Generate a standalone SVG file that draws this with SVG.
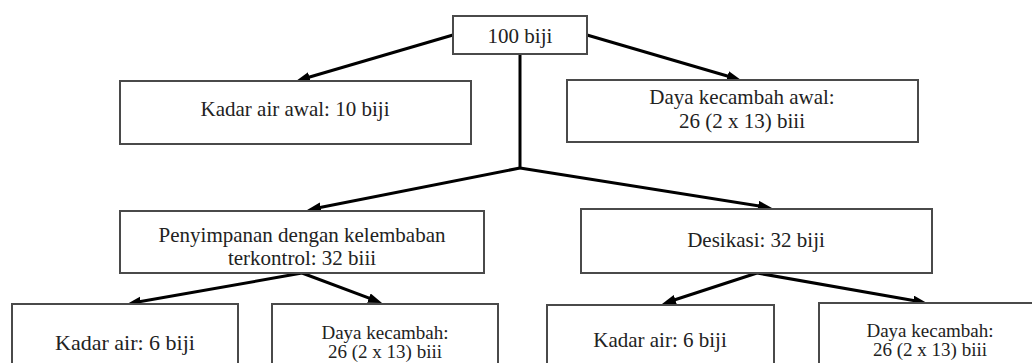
<svg xmlns="http://www.w3.org/2000/svg" width="1032" height="363" viewBox="0 0 1032 363">
<style>
.box{fill:#fff;stroke:#4a4a4a;stroke-width:2}
.t{font-family:"Liberation Serif","Times New Roman",serif;font-size:21px;fill:#222;text-anchor:middle}
.s{font-size:19px}
.c{stroke:#000;stroke-width:3;fill:none}
.a{marker-end:url(#ah)}
</style>
<defs>
<marker id="ah" markerUnits="userSpaceOnUse" markerWidth="16" markerHeight="12" refX="6" refY="5" orient="auto">
<path d="M0,0 L14,5 L0,10 z" fill="#000"/>
</marker>
</defs>
<rect width="1032" height="363" fill="#fff"/>
<g id="connectors">
<line class="c a" x1="453" y1="35" x2="303.7" y2="78.8"/>
<line class="c a" x1="587" y1="35" x2="733.3" y2="77.8"/>
<polyline class="c" points="520,54 520,168"/>
<line class="c a" x1="520" y1="168" x2="314.9" y2="208.5"/>
<line class="c a" x1="520" y1="168" x2="764.1" y2="206.7"/>
<line class="c a" x1="302" y1="273" x2="134.9" y2="302.6"/>
<line class="c a" x1="302" y1="273" x2="374.5" y2="300.2"/>
<line class="c a" x1="757" y1="273" x2="669.6" y2="301.5"/>
<line class="c a" x1="757" y1="273" x2="919.1" y2="301.6"/>
</g>
<g id="n-root">
<rect class="box" x="453" y="16" width="134" height="38"/>
<text class="t" x="520" y="43">100 biji</text>
</g>
<g id="n-kadar-awal">
<rect class="box" x="120" y="81" width="351" height="63"/>
<text class="t" x="295" y="116">Kadar air awal: 10 biji</text>
</g>
<g id="n-daya-awal">
<rect class="box" x="567" y="80" width="351" height="62"/>
<text class="t" x="742" y="104">Daya kecambah awal:</text>
<text class="t" x="742" y="128">26 (2 x 13) biii</text>
</g>
<g id="n-penyimpanan">
<rect class="box" x="120" y="211" width="364" height="62"/>
<text class="t" x="302" y="242">Penyimpanan dengan kelembaban</text>
<text class="t" x="302" y="265">terkontrol: 32 biii</text>
</g>
<g id="n-desikasi">
<rect class="box" x="581" y="209" width="351" height="64"/>
<text class="t" x="756" y="247">Desikasi: 32 biji</text>
</g>
<g id="n-kadar-1">
<rect class="box" x="12" y="304" width="226" height="80"/>
<text class="t" x="125" y="350" style="font-size:22px">Kadar air: 6 biji</text>
</g>
<g id="n-daya-1">
<rect class="box" x="272" y="304" width="226" height="80"/>
<text class="t s" x="385" y="339">Daya kecambah:</text>
<text class="t s" x="385" y="358">26 (2 x 13) biii</text>
</g>
<g id="n-kadar-2">
<rect class="box" x="547" y="305" width="227" height="80"/>
<text class="t" x="660" y="347">Kadar air: 6 biji</text>
</g>
<g id="n-daya-2">
<rect class="box" x="819" y="303" width="230" height="80"/>
<text class="t s" x="930" y="337">Daya kecambah:</text>
<text class="t s" x="930" y="356">26 (2 x 13) biii</text>
</g>
</svg>
